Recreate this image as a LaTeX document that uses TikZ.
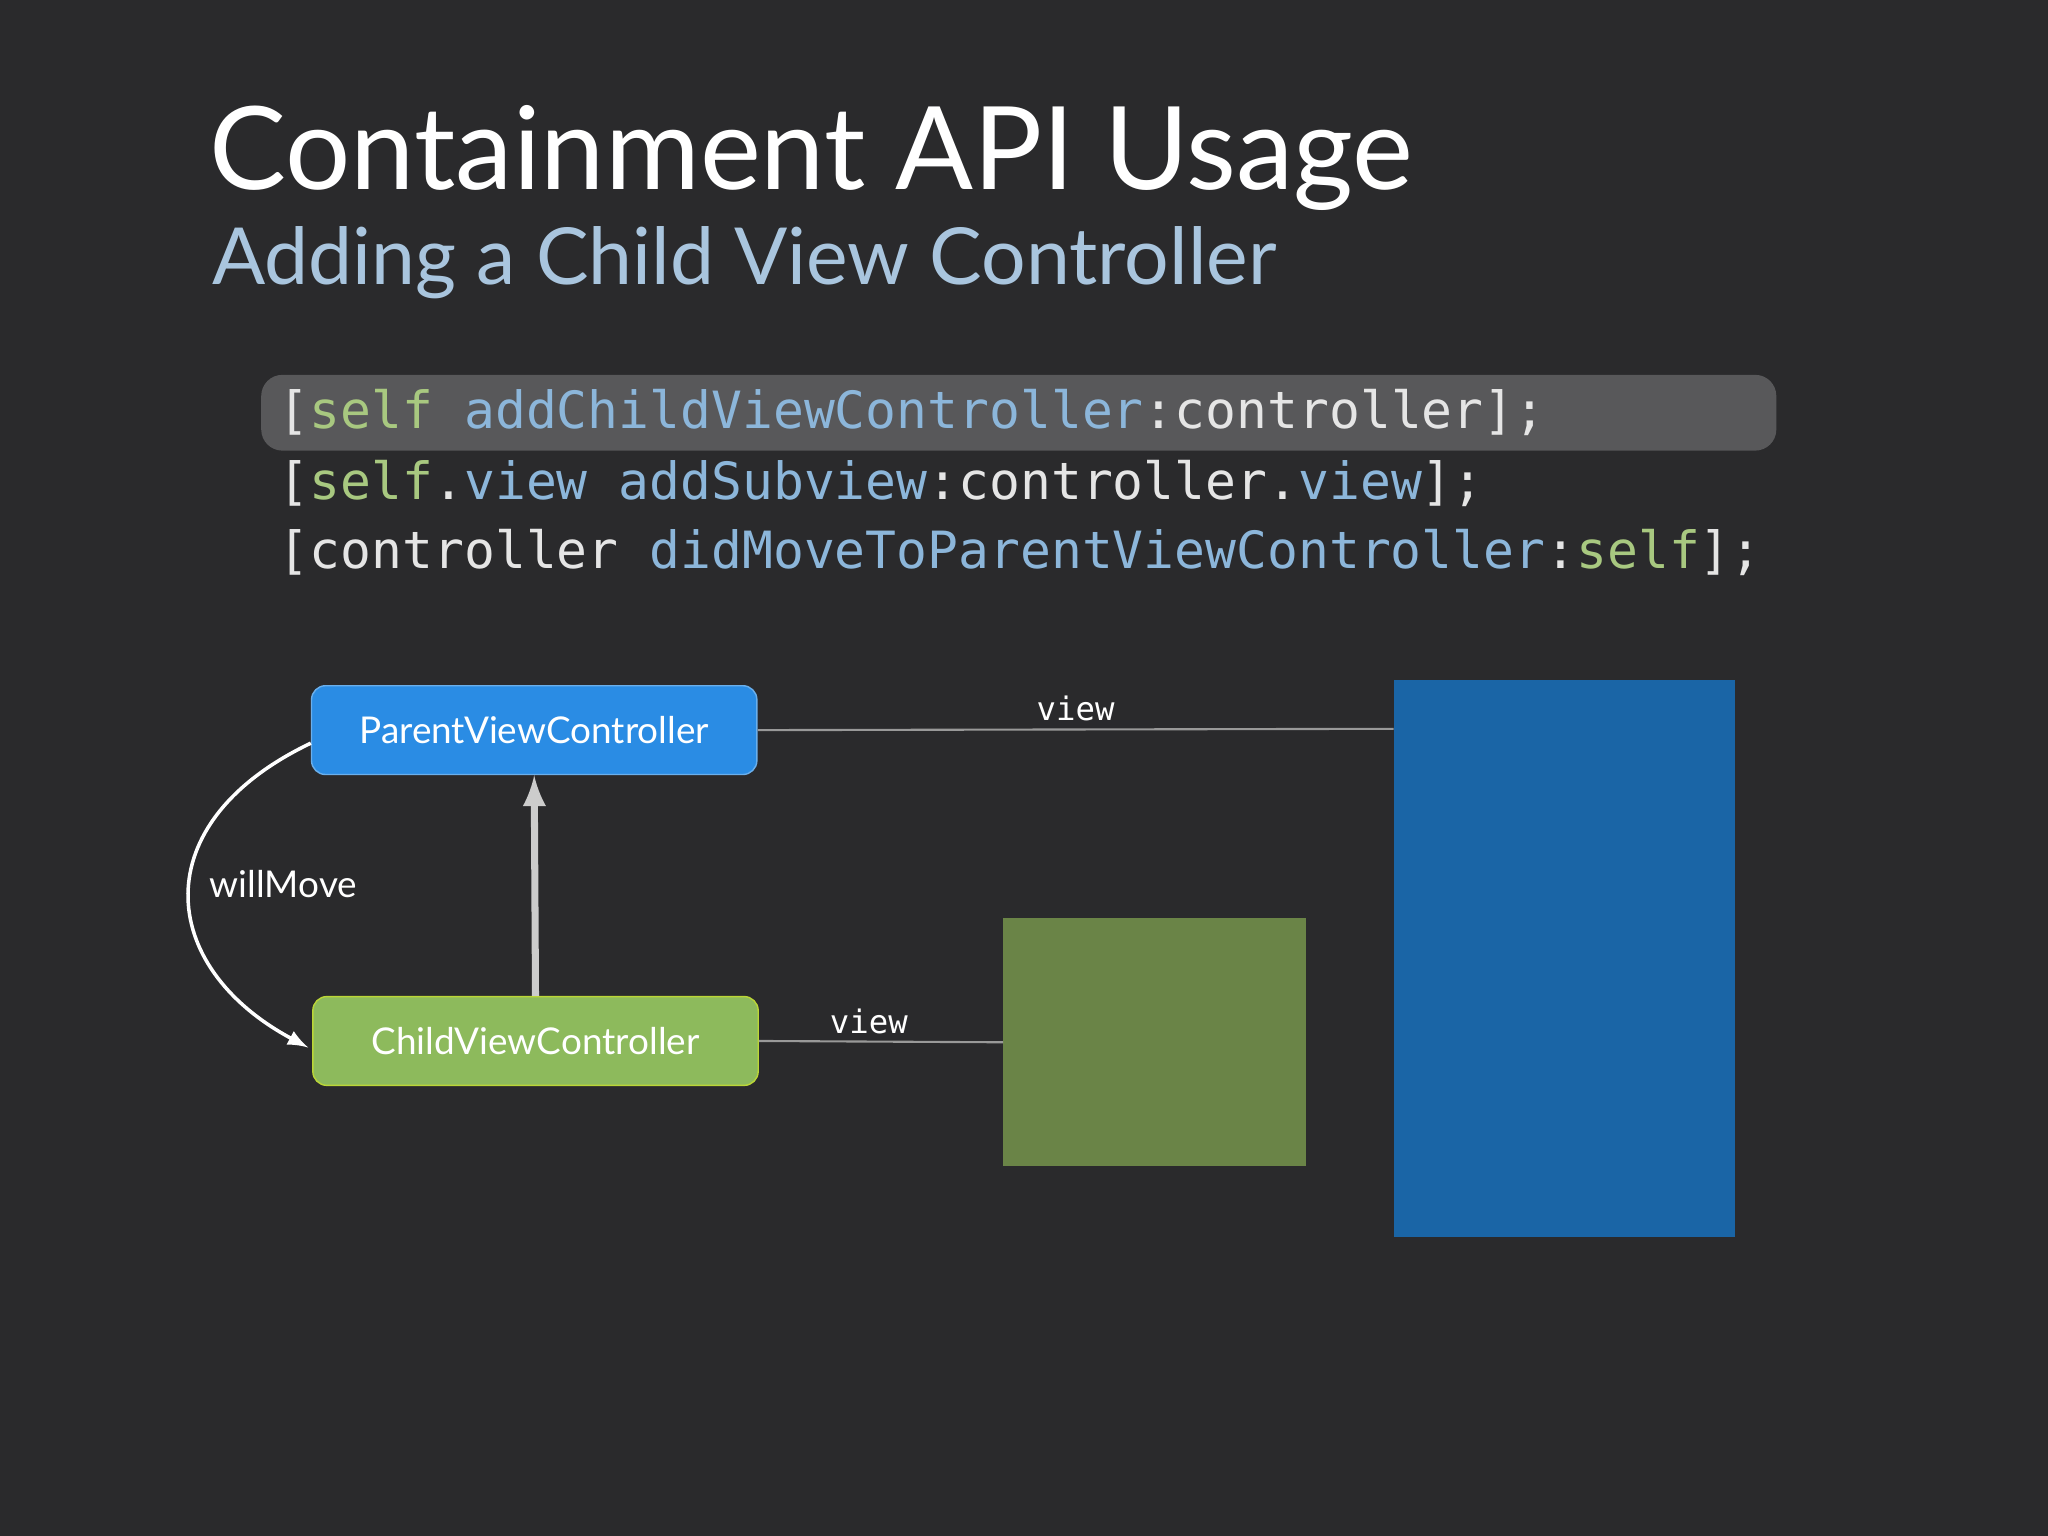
\documentclass[tikz,border=0pt]{standalone}
\usepackage{fontspec}
\setmainfont{Lato}
\setmonofont{DejaVu Sans Mono}
\usetikzlibrary{positioning,calc}
\definecolor{bg}{HTML}{2A2A2C}
\definecolor{codebox}{HTML}{58585A}
\definecolor{kwgreen}{HTML}{A8C880}
\definecolor{msgblue}{HTML}{8CB6DA}
\definecolor{subblue}{HTML}{A9C5DE}
\definecolor{parentblue}{HTML}{2A8CE4}
\definecolor{childgreen}{HTML}{8DBA5C}
\definecolor{bigblue}{HTML}{1A65A6}
\definecolor{smallgreen}{HTML}{6A8447}
\newlength{\pxunit}
\setlength{\pxunit}{0.013061cm}
\tikzset{
  ctrl/.style={rounded corners=4pt, minimum width=341\pxunit, minimum height=68\pxunit, text=white, font=\fontsize{10.5}{12}\selectfont},
  codeline/.style={anchor=west, text=white!90!black, font=\ttfamily\fontsize{14.6}{16}\selectfont, inner sep=0pt},
  viewlbl/.style={above, text=white, font=\ttfamily\fontsize{9.2}{10}\selectfont, inner sep=2pt},
}
\begin{document}
\begin{tikzpicture}[x=\pxunit, y=-\pxunit]
  % Sfondo
  \fill[bg] (0,0) rectangle (1568,1176);
  \useasboundingbox (0,0) rectangle (1568,1176);

  % Titoli
  \node[anchor=base west, inner sep=0pt, text=white, font=\fontsize{32.8}{36}\selectfont] (title) at (160,145) {Containment API Usage};
  \node[anchor=base west, inner sep=0pt, text=subblue, font=\fontsize{22.4}{26}\selectfont] (subtitle) at (162,218) {Adding a Child View Controller};

  % Codice
  \fill[codebox, rounded corners=6pt] (200,287) rectangle (1360,345);
  \node[codeline] (line1) at (213,316) {[\textcolor{kwgreen}{self} \textcolor{msgblue}{addChildViewController}:controller];};
  \node[codeline] (line2) at (213,370) {[\textcolor{kwgreen}{self}.\textcolor{msgblue}{view} \textcolor{msgblue}{addSubview}:controller.\textcolor{msgblue}{view}];};
  \node[codeline] (line3) at (213,423) {[controller \textcolor{msgblue}{didMoveToParentViewController}:\textcolor{kwgreen}{self}];};

  % Viste
  \fill[bigblue] (1067,521) rectangle (1328,947);
  \coordinate (bigview) at (1067,558);
  \fill[smallgreen] (768,703) rectangle (1000,893);
  \coordinate (smallview) at (768,798);

  % Controller
  \node[ctrl, fill=parentblue, draw=parentblue!70!white] (parent) at (409,559) {ParentViewController};
  \node[ctrl, fill=childgreen, draw=childgreen!60!yellow] (child) at (410,797) {ChildViewController};

  % Collegamenti
  \draw[gray!80, line width=0.6pt] (parent.east) -- node[viewlbl, pos=0.5] {view} (bigview);
  \draw[gray!80, line width=0.6pt] (child.east) -- node[viewlbl, pos=0.45] {view} (smallview);
  \draw[->, >=latex, line width=2pt, gray!40] (child.north) -- (parent.south);
  \draw[->, >=latex, white, line width=1pt] ($(parent.west)+(0,10)$) .. controls (110,630) and (120,740) .. ($(child.west)+(-3,5)$);
  \node[text=white, font=\fontsize{10.5}{12}\selectfont, inner sep=1pt] (willmove) at (217,677) {willMove};
\end{tikzpicture}
\end{document}
